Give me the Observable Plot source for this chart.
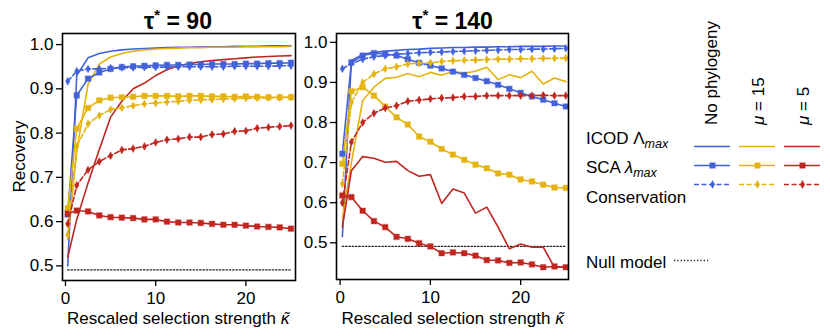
<!DOCTYPE html>
<html><head><meta charset="utf-8">
<script src="https://cdn.jsdelivr.net/npm/d3@7"></script>
<script src="https://cdn.jsdelivr.net/npm/@observablehq/plot@0.6"></script>
<style>
body{margin:0;background:#fff;}
#fig{position:relative;width:830px;height:336px;font-family:"Liberation Sans",Arial,sans-serif;}
#fig > *{position:absolute;}
</style></head><body><div id="fig"></div>
<script>
// ---------- data ----------
const kappa = [0.25, 1.25, 2.5, 3.75, 5, 6.25, 7.5, 8.75, 10, 11.25, 12.5, 13.75, 15, 16.25, 17.5, 18.75, 20, 21.25, 22.5, 23.75, 25];
const groups = ["No phylogeny", "μ = 15", "μ = 5"];
const methods = ["ICOD", "SCA", "Conservation"];
const colors = ["#4262d9", "#e5b30f", "#c0261f"];
const nullModel = 0.491;

// tau* = 90
const icod90_nophylo = [0.50, 0.93, 0.970, 0.980, 0.985, 0.988, 0.990, 0.991, 0.992, 0.993, 0.994, 0.994, 0.995, 0.995, 0.995, 0.996, 0.996, 0.996, 0.997, 0.997, 0.997];
const sca90_nophylo  = [0.616, 0.885, 0.923, 0.937, 0.945, 0.949, 0.951, 0.952, 0.953, 0.954, 0.954, 0.955, 0.955, 0.956, 0.956, 0.956, 0.957, 0.957, 0.958, 0.958, 0.959];
const cons90_nophylo = [0.917, 0.940, 0.945, 0.945, 0.947, 0.948, 0.948, 0.949, 0.949, 0.949, 0.950, 0.950, 0.950, 0.950, 0.950, 0.951, 0.951, 0.951, 0.951, 0.952, 0.952];
const icod90_mu15 = [0.56, 0.76, 0.91, 0.956, 0.972, 0.980, 0.985, 0.988, 0.990, 0.991, 0.992, 0.993, 0.993, 0.994, 0.994, 0.994, 0.995, 0.995, 0.995, 0.995, 0.996];
const sca90_mu15  = [0.63, 0.81, 0.857, 0.874, 0.880, 0.881, 0.882, 0.884, 0.884, 0.884, 0.883, 0.884, 0.884, 0.883, 0.883, 0.882, 0.883, 0.882, 0.881, 0.881, 0.881];
const cons90_mu15 = [0.57, 0.77, 0.821, 0.840, 0.853, 0.857, 0.862, 0.866, 0.868, 0.870, 0.872, 0.874, 0.875, 0.876, 0.877, 0.878, 0.879, 0.879, 0.880, 0.880, 0.881];
const icod90_mu5 = [0.52, 0.605, 0.687, 0.763, 0.836, 0.872, 0.90, 0.913, 0.930, 0.943, 0.952, 0.957, 0.961, 0.964, 0.966, 0.968, 0.970, 0.972, 0.973, 0.974, 0.975];
const sca90_mu5  = [0.618, 0.625, 0.623, 0.614, 0.610, 0.609, 0.608, 0.605, 0.605, 0.600, 0.598, 0.598, 0.597, 0.595, 0.593, 0.593, 0.591, 0.589, 0.588, 0.587, 0.584];
const cons90_mu5 = [0.595, 0.682, 0.717, 0.736, 0.749, 0.762, 0.765, 0.770, 0.779, 0.785, 0.787, 0.791, 0.791, 0.797, 0.798, 0.804, 0.805, 0.811, 0.813, 0.815, 0.817];

// tau* = 140
const icod140_nophylo = [0.515, 0.955, 0.970, 0.975, 0.978, 0.980, 0.982, 0.983, 0.985, 0.986, 0.987, 0.987, 0.988, 0.988, 0.989, 0.989, 0.990, 0.990, 0.990, 0.991, 0.991];
const sca140_nophylo  = [0.722, 0.950, 0.967, 0.973, 0.971, 0.967, 0.958, 0.949, 0.942, 0.935, 0.927, 0.919, 0.911, 0.903, 0.894, 0.884, 0.874, 0.865, 0.857, 0.848, 0.840];
const cons140_nophylo = [0.934, 0.947, 0.958, 0.964, 0.967, 0.970, 0.972, 0.974, 0.975, 0.976, 0.977, 0.978, 0.979, 0.980, 0.981, 0.982, 0.982, 0.983, 0.983, 0.984, 0.985];
const icod140_mu15 = [0.56, 0.70, 0.855, 0.888, 0.910, 0.913, 0.922, 0.914, 0.925, 0.918, 0.928, 0.923, 0.928, 0.938, 0.907, 0.919, 0.912, 0.928, 0.896, 0.911, 0.902];
const sca140_mu15  = [0.697, 0.878, 0.888, 0.867, 0.840, 0.813, 0.795, 0.765, 0.752, 0.734, 0.720, 0.707, 0.695, 0.686, 0.673, 0.670, 0.658, 0.653, 0.645, 0.638, 0.637];
const cons140_mu15 = [0.647, 0.850, 0.900, 0.921, 0.934, 0.939, 0.946, 0.948, 0.949, 0.952, 0.954, 0.955, 0.956, 0.957, 0.958, 0.958, 0.959, 0.959, 0.960, 0.960, 0.961];
const icod140_mu5 = [0.539, 0.680, 0.715, 0.711, 0.701, 0.703, 0.680, 0.666, 0.670, 0.598, 0.634, 0.624, 0.574, 0.589, 0.539, 0.485, 0.497, 0.489, 0.489, 0.439, 0.441];
const sca140_mu5  = [0.618, 0.614, 0.580, 0.554, 0.539, 0.515, 0.510, 0.499, 0.491, 0.474, 0.476, 0.474, 0.468, 0.457, 0.456, 0.450, 0.451, 0.446, 0.439, 0.441, 0.439];
const cons140_mu5 = [0.600, 0.751, 0.800, 0.823, 0.836, 0.842, 0.853, 0.856, 0.859, 0.861, 0.862, 0.865, 0.865, 0.867, 0.867, 0.867, 0.867, 0.867, 0.868, 0.867, 0.867];

const yTicks = [0.5, 0.6, 0.7, 0.8, 0.9, 1.0];
const xTicks = [0, 10, 20];

// ---------- build tables ----------
function table(series) {
  const rows = [];
  methods.forEach((m, mi) => groups.forEach((g, gi) => {
    series[mi][gi].forEach((v, i) => rows.push({k: kappa[i], v, method: m, group: g}));
  }));
  return rows;
}
const data90 = table([
  [icod90_nophylo, icod90_mu15, icod90_mu5],
  [sca90_nophylo, sca90_mu15, sca90_mu5],
  [cons90_nophylo, cons90_mu15, cons90_mu5]
]);
const data140 = table([
  [icod140_nophylo, icod140_mu15, icod140_mu5],
  [sca140_nophylo, sca140_mu15, sca140_mu5],
  [cons140_nophylo, cons140_mu15, cons140_mu5]
]);

const fig = document.getElementById("fig");
const font = '"Liberation Sans", Arial, sans-serif';
const colorScale = {domain: groups, range: colors};

function panel(data, opts) {
  const p = Plot.plot({
    width: opts.width, height: 336,
    marginLeft: opts.ml, marginRight: 5, marginTop: 33, marginBottom: opts.mb,
    style: {fontFamily: font, fontSize: "17px", color: "black", background: "transparent", overflow: "visible"},
    x: {domain: opts.xd},
    y: {domain: opts.yd},
    color: colorScale,
    marks: [
      Plot.line(kappa, {x: d => d, y: () => nullModel, stroke: "#222", strokeWidth: 1.4, strokeDasharray: "1.3,2"}),
      Plot.line(data.filter(d => d.method === "ICOD"), {x: "k", y: "v", z: "group", stroke: "group", strokeWidth: 1.6}),
      Plot.line(data.filter(d => d.method === "SCA"), {x: "k", y: "v", z: "group", stroke: "group", strokeWidth: 1.6}),
      Plot.dot(data.filter(d => d.method === "SCA"), {x: "k", y: "v", fill: "group", stroke: "group", strokeOpacity: 0.35, strokeWidth: 1.2, symbol: "square", r: 3.1}),
      Plot.line(data.filter(d => d.method === "Conservation"), {x: "k", y: "v", z: "group", stroke: "group", strokeWidth: 1.6, strokeDasharray: "5,2.5"}),
      Plot.dot(data.filter(d => d.method === "Conservation"), {x: "k", y: "v", fill: "group", stroke: "group", strokeOpacity: 0.35, strokeWidth: 1, symbol: "diamond", r: 2.4}),
      Plot.axisX({ticks: xTicks, tickSize: 6, tickPadding: 5, label: null, strokeWidth: 1.3}),
      Plot.axisY({ticks: yTicks, tickFormat: ".1f", tickSize: 6, tickPadding: 3, label: null, strokeWidth: 1.3}),
      Plot.frame({stroke: "black", strokeWidth: 1.6})
    ]
  });
  p.style.left = opts.left + "px";
  p.style.top = "0px";
  fig.appendChild(p);
}

panel(data90, {width: 300, ml: 62, mb: 56, left: 0, xd: [-0.33, 25.5], yd: [0.467, 1.025]});
panel(data140, {width: 283, ml: 46, mb: 57, left: 290, xd: [-0.4, 25.3], yd: [0.4085, 1.022]});

// ---------- legend swatches ----------
const cells = [];
methods.forEach(m => groups.forEach(g => cells.push({method: m, group: g})));
const leg = Plot.plot({
  width: 260, height: 215, marginLeft: 0, marginRight: 0, marginTop: 0, marginBottom: 0,
  style: {fontFamily: font, fontSize: "17px", color: "black", background: "transparent", overflow: "visible"},
  x: {type: "band", domain: groups, range: [123, 250], paddingInner: 0.21, paddingOuter: 0, axis: null},
  y: {type: "point", domain: methods, range: [135.3, 194.7], axis: null},
  color: colorScale,
  marks: [
    Plot.tickY(cells.filter(d => d.method !== "Conservation"), {x: "group", y: "method", stroke: "group", strokeWidth: 1.6}),
    Plot.tickY(cells.filter(d => d.method === "Conservation"), {x: "group", y: "method", stroke: "group", strokeWidth: 1.6, strokeDasharray: "5,2.5"}),
    Plot.dot(cells.filter(d => d.method === "SCA"), {x: "group", y: "method", fill: "group", stroke: "group", strokeOpacity: 0.35, strokeWidth: 1.2, symbol: "square", r: 3.1}),
    Plot.dot(cells.filter(d => d.method === "Conservation"), {x: "group", y: "method", fill: "group", stroke: "group", strokeOpacity: 0.35, strokeWidth: 1, symbol: "diamond", r: 2.4})
  ]
});
leg.style.left = "570px"; leg.style.top = "0px";
fig.appendChild(leg);

const nullLeg = Plot.plot({
  width: 34, height: 20, marginLeft: 0, marginRight: 0, marginTop: 10, marginBottom: 10,
  style: {background: "transparent", overflow: "visible"},
  y: {axis: null}, x: {axis: null},
  marks: [Plot.ruleY([nullModel], {stroke: "#222", strokeWidth: 1.4, strokeDasharray: "1.3,2"})]
});
nullLeg.style.left = "674px"; nullLeg.style.top = "250px";
fig.appendChild(nullLeg);

// ---------- text overlay ----------
const svg = d3.select(fig).append("svg")
  .attr("width", 830).attr("height", 336)
  .style("left", "0px").style("top", "0px").style("pointer-events", "none")
  .style("font-family", font).style("font-size", "17px").attr("fill", "black");

function title(x, num) {
  const t = svg.append("text").attr("x", x).attr("y", 29).attr("text-anchor", "middle")
    .style("font-weight", "bold").style("font-size", "23px");
  t.append("tspan").text("τ");
  t.append("tspan").attr("dy", -9).style("font-size", "15px").text("*");
  t.append("tspan").attr("dy", 9).text(" = " + num);
}
title(178, "90");
title(452.5, "140");

function xlabel(x) {
  const t = svg.append("text").attr("x", x).attr("y", 324).attr("text-anchor", "middle");
  t.append("tspan").text("Rescaled selection strength ");
  t.append("tspan").style("font-style", "italic").style("font-family", '"DejaVu Sans", sans-serif').style("font-size", "16px").text("κ\u0303");
}
xlabel(178.5);
xlabel(453);

svg.append("text").attr("transform", "translate(25,156.5) rotate(-90)").attr("text-anchor", "middle").text("Recovery");

// legend row labels
function rowLabel(y, parts) {
  const t = svg.append("text").attr("x", 586).attr("y", y);
  parts.forEach(p => {
    const s = t.append("tspan").text(p.t);
    if (p.i) s.style("font-style", "italic");
    if (p.sub) s.attr("dy", 3.5).style("font-size", "12.5px");
  });
}
rowLabel(144, [{t: "ICOD Λ"}, {t: "max", i: true, sub: true}]);
rowLabel(173.3, [{t: "SCA "}, {t: "λ", i: true}, {t: "max", i: true, sub: true}]);
rowLabel(203.3, [{t: "Conservation"}]);
svg.append("text").attr("x", 586).attr("y", 268.3).text("Null model");

// column headers (rotated)
function header(x, parts) {
  const t = svg.append("text").attr("transform", `translate(${x},125) rotate(-90)`);
  parts.forEach(p => {
    const s = t.append("tspan").text(p.t);
    if (p.i) s.style("font-style", "italic");
  });
}
header(717, [{t: "No phylogeny"}]);
header(763.5, [{t: "μ", i: true}, {t: " = 15"}]);
header(809, [{t: "μ", i: true}, {t: " = 5"}]);
</script></body></html>
